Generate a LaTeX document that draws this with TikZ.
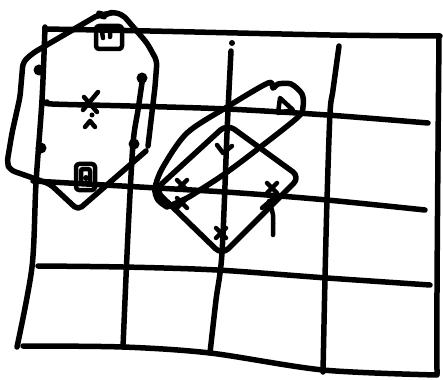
\documentclass[tikz,border=0pt]{standalone}
\usetikzlibrary{calc}

\begin{document}
\begin{tikzpicture}[x=1pt, y=-1pt,
    pen/.style={line width=5.5pt, line cap=round, line join=round},
    stroke/.style={line width=4.5pt, line cap=round, line join=round},
    blob/.style={circle, fill, inner sep=0pt, minimum size=11pt}]
    \useasboundingbox (0,0) rectangle (443,379);

    % grid
    \draw[pen] plot[smooth] coordinates {(45,29) (150,31) (330,35) (440,36)};
    \draw[pen] plot[smooth] coordinates {(439,36) (438,150) (437,290) (437,374)};
    \draw[pen] plot[smooth] coordinates {(23,346) (123,347) (210,353) (323,370) (437,375)};
    \draw[pen] plot[smooth] coordinates {(45,27) (42,100) (36,183) (32,267) (17,347)};
    \draw[pen] plot[smooth] coordinates {(47,102) (52,104) (130,106) (227,109) (327,115) (428,123)};
    \draw[pen] plot[smooth] coordinates {(33,181) (157,188) (240,193) (327,200) (425,210)};
    \draw[pen] plot[smooth] coordinates {(38,266) (123,267) (217,270) (327,278) (430,285)};
    \draw[pen] plot[smooth] coordinates {(143,76) (138,110) (133,144) (128,233) (123,347)};
    \draw[pen] plot[smooth] coordinates {(231,51) (229,90) (227,133) (222,253) (216,300) (210,353)};
    \draw[pen] plot[smooth] coordinates {(339,46) (333,90) (330,113) (327,200) (325,278) (323,372)};
    \fill (232,43) circle (3pt);

    % first region
    \draw[pen, rounded corners=5pt] (148,146) -- (155,87) -- (157,61) -- (147,43) -- (123,15)
        -- (113,12) -- (107,14) -- (103,16) -- (100,14) -- (33,53) -- (23,62) -- (20,97)
        -- (12,133) -- (7,163) -- (10,170) -- (33,178) -- (50,184) -- (78,210) -- (146,151);
    \node[blob] (d1) at (39,70) {};
    \node[blob] (d2) at (41,148) {};
    \node[blob] (d3) at (142,78) {};
    \node[blob] (d4) at (134,144) {};
    \draw[stroke, rounded corners=3pt] (96,26) rectangle (122,49);
    \draw[stroke] (102,32) -- (103,38) (103,31) -- (110,30) -- (110,37);
    \draw[stroke, rounded corners=3pt] (76,164) rectangle (95,190);
    \draw[stroke, rounded corners=2pt] (81,169) rectangle (90,183);
    \fill (86,178) circle (3pt);
    \draw[stroke] (84,97) -- (97,112) (98,92) -- (83,110);
    \draw[stroke] (85,127) -- (90,121) -- (95,127);
    \fill (92,115) circle (2.5pt);

    % second region
    \draw[pen] plot[smooth] coordinates {(167,207) (158,200) (155,188) (163,167) (187,133)
        (227,107) (268,83) (273,88) (278,84) (291,84) (302,94) (303,107) (297,118)
        (250,155) (223,175) (200,190) (187,198) (167,207)};
    \draw[pen, rounded corners=9pt] (227,124) -- (300,177) -- (222,255) -- (155,190) -- cycle;
    \draw[stroke] (280,98) -- (293,110) -- (278,113) -- cycle;
    \draw[stroke] (217,145) -- (223,153) -- (232,146);
    \foreach \x/\y in {182/185, 182/203, 272/188, 221/233}
        \draw[stroke] (\x-5,\y-5) -- (\x+5,\y+5) (\x+5,\y-5) -- (\x-5,\y+5);
    \draw[stroke] (262,208) -- (275,197);
    \draw[stroke] plot[smooth] coordinates {(269,201) (273,215) (273,235)};
\end{tikzpicture}
\end{document}
